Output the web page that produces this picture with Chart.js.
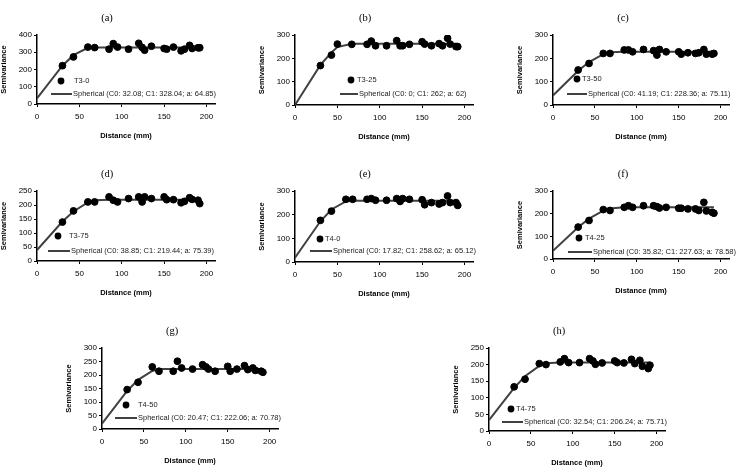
<!DOCTYPE html>
<html>
<head>
<meta charset="utf-8">
<script src="https://cdn.jsdelivr.net/npm/chart.js"></script>
<style>
  html, body { margin: 0; padding: 0; background: #fff; }
  body { position: relative; width: 737px; height: 467px; overflow: hidden; }
  canvas { position: absolute; }
</style>
</head>
<body>
<script>
// lag distances (mm)
const lags = [30, 43, 60, 68, 85, 90, 95, 108, 120, 124, 127, 135, 150, 153, 161, 170, 174, 180, 183, 190, 192];
const lagsB = [30, 43, 50, 67, 85, 90, 95, 108, 120, 124, 127, 135, 150, 153, 161, 170, 174, 180, 183, 190, 192];
const fitLags = [0, 30, 43, 60, 68, 85, 192];
const fitLagsB = [0, 30, 43, 50, 67, 192];
const xTicks = [0, 50, 100, 150, 200];

// experimental semivariance
const semiA = [222, 273, 330, 327, 318, 350, 330, 318, 352, 328, 312, 335, 322, 318, 330, 308, 318, 340, 322, 326, 326];
const semiB = [169, 214, 261, 260, 260, 274, 254, 254, 276, 254, 254, 260, 271, 261, 254, 263, 254, 286, 261, 250, 250];
const semiC = [150, 178, 221, 221, 236, 236, 228, 238, 233, 214, 238, 228, 228, 218, 224, 221, 224, 238, 218, 218, 221];
const semiD = [139, 179, 211, 211, 229, 217, 211, 223, 229, 211, 229, 223, 229, 219, 219, 208, 213, 226, 220, 217, 205];
const semiE = [176, 215, 265, 265, 265, 268, 261, 261, 268, 256, 268, 265, 263, 242, 251, 245, 251, 279, 251, 251, 239];
const semiF = [141, 170, 218, 214, 228, 235, 228, 235, 235, 231, 225, 228, 224, 224, 221, 221, 214, 250, 212, 206, 202];
const semiG = [146, 173, 230, 214, 214, 251, 226, 222, 238, 230, 222, 214, 232, 214, 222, 235, 220, 226, 217, 214, 210];
const semiH = [133, 156, 203, 200, 208, 218, 206, 206, 218, 211, 201, 205, 211, 206, 205, 216, 203, 213, 195, 188, 198];

// spherical model line
const fitA = [32, 222, 283, 326, 328, 328, 328];
const fitB = [0, 172, 225, 248, 262, 262];
const fitC = [41, 147, 184, 218, 226, 228, 228];
const fitD = [39, 141, 177, 209, 217, 219, 219];
const fitE = [18, 172, 222, 256, 259, 259, 259];
const fitF = [36, 140, 178, 213, 223, 228, 228];
const fitG = [20, 141, 182, 215, 222, 222, 222];
const fitH = [33, 130, 165, 196, 204, 206, 206];

const tags = ['(a)', '(b)', '(c)', '(d)', '(e)', '(f)', '(g)', '(h)'];
const seriesNames = ['T3-0', 'T3-25', 'T3-50', 'T3-75', 'T4-0', 'T4-25', 'T4-50', 'T4-75'];
const fitNames = [
    'Spherical (C0: 32.08; C1: 328.04; a: 64.85)',
    'Spherical (C0: 0; C1: 262; a: 62)',
    'Spherical (C0: 41.19; C1: 228.36; a: 75.11)',
    'Spherical (C0: 38.85; C1: 219.44; a: 75.39)',
    'Spherical (C0: 17.82; C1: 258.62; a: 65.12)',
    'Spherical (C0: 35.82; C1: 227.63; a: 78.58)',
    'Spherical (C0: 20.47; C1: 222.06; a: 70.78)',
    'Spherical (C0: 32.54; C1: 206.24; a: 75.71)'
];
const yMaxes = [400, 300, 300, 250, 300, 300, 300, 250];
const ySteps = [100, 50, 50, 50, 50, 50, 50, 50];

const panels = [
    { xs: lags,  ys: semiA, fx: fitLags,  fy: fitA },
    { xs: lagsB, ys: semiB, fx: fitLagsB, fy: fitB },
    { xs: lags,  ys: semiC, fx: fitLags,  fy: fitC },
    { xs: lags,  ys: semiD, fx: fitLags,  fy: fitD },
    { xs: lags,  ys: semiE, fx: fitLags,  fy: fitE },
    { xs: lags,  ys: semiF, fx: fitLags,  fy: fitF },
    { xs: lags,  ys: semiG, fx: fitLags,  fy: fitG },
    { xs: lags,  ys: semiH, fx: fitLags,  fy: fitH }
];

// plot area boxes and legend offsets (layout only)
const boxes = [
    { left: 37,  top: 35,  w: 178, h: 69 },
    { left: 295, top: 35,  w: 178, h: 70 },
    { left: 553, top: 35,  w: 176, h: 70 },
    { left: 37,  top: 191, w: 178, h: 70 },
    { left: 295, top: 191, w: 178, h: 71 },
    { left: 553, top: 191, w: 176, h: 68 },
    { left: 102, top: 348, w: 176, h: 81 },
    { left: 489, top: 348, w: 176, h: 83 }
];
const legends = [
    { l0: 14, l1: 35, ly: -10, dot: 24, dy: -23, t1: 37 },
    { l0: 45, l1: 63, ly: -11, dot: 56, dy: -25, t1: 62 },
    { l0: 14, l1: 34, ly: -11, dot: 24, dy: -26, t1: 29 },
    { l0: 11, l1: 33, ly: -10, dot: 21, dy: -25, t1: 32 },
    { l0: 15, l1: 37, ly: -11, dot: 25, dy: -23, t1: 30 },
    { l0: 15, l1: 39, ly: -7,  dot: 26, dy: -21, t1: 32 },
    { l0: 13, l1: 35, ly: -11, dot: 24, dy: -24, t1: 36 },
    { l0: 13, l1: 34, ly: -9,  dot: 22, dy: -22, t1: 27 }
];

const SANS = '"Liberation Sans", Arial, sans-serif';
const SERIF = '"Liberation Serif", "Times New Roman", serif';
const YW = 38, XH = 36, PT = 26, PR = 34, PB = 3;

// panel letter + in-plot legend
const panelDeco = {
    id: 'panelDeco',
    afterDraw(chart, args, opts) {
        const { ctx, chartArea: a } = chart;
        const ds = chart.data.datasets;
        const L = opts.leg;
        ctx.save();
        ctx.fillStyle = '#000';
        ctx.textBaseline = 'middle';
        ctx.textAlign = 'center';
        ctx.font = '10.5px ' + SERIF;
        ctx.fillText(opts.tag, a.left + 70, a.top - 17);

        ctx.textAlign = 'left';
        ctx.font = '7.5px ' + SANS;
        ctx.beginPath();
        ctx.arc(a.left + L.dot, a.bottom + L.dy, 3.4, 0, Math.PI * 2);
        ctx.fill();
        ctx.fillStyle = '#222';
        ctx.fillText(ds[0].label, a.left + L.t1, a.bottom + L.dy);

        ctx.strokeStyle = '#404040';
        ctx.lineWidth = 2;
        ctx.beginPath();
        ctx.moveTo(a.left + L.l0, a.bottom + L.ly);
        ctx.lineTo(a.left + L.l1, a.bottom + L.ly);
        ctx.stroke();
        ctx.fillText(ds[1].label, a.left + L.l1 + 1, a.bottom + L.ly);
        ctx.restore();
    }
};

function axisBase() {
    return {
        grid: { drawOnChartArea: false, drawTicks: true, tickLength: 3, color: '#000', lineWidth: 1 },
        border: { color: '#000', width: 1.5 }
    };
}

function makePanel(i) {
    const p = panels[i], b = boxes[i];
    const canvas = document.createElement('canvas');
    canvas.width = YW + b.w + PR;
    canvas.height = PT + b.h + XH + PB;
    canvas.style.left = (b.left - YW) + 'px';
    canvas.style.top = (b.top - PT) + 'px';
    document.body.appendChild(canvas);

    new Chart(canvas, {
        type: 'scatter',
        data: {
            datasets: [
                {
                    label: seriesNames[i],
                    data: p.xs.map((x, k) => ({ x: x, y: p.ys[k] })),
                    backgroundColor: '#000',
                    borderColor: '#000',
                    pointRadius: 3.4,
                    order: 0
                },
                {
                    type: 'line',
                    label: fitNames[i],
                    data: p.fx.map((x, k) => ({ x: x, y: p.fy[k] })),
                    borderColor: '#404040',
                    borderWidth: 2,
                    pointRadius: 0,
                    fill: false,
                    tension: 0,
                    order: 1
                }
            ]
        },
        options: {
            responsive: false,
            animation: false,
            devicePixelRatio: 1,
            layout: { padding: { top: PT, right: PR, bottom: PB, left: 0 } },
            plugins: {
                legend: { display: false },
                tooltip: { enabled: false },
                panelDeco: { tag: tags[i], leg: legends[i] }
            },
            scales: {
                x: Object.assign(axisBase(), {
                    type: 'linear',
                    min: 0,
                    max: 210,
                    afterBuildTicks: s => { s.ticks = xTicks.map(v => ({ value: v })); },
                    afterFit: s => { s.height = XH; },
                    ticks: { padding: 5, maxRotation: 0, autoSkip: false, color: '#000', font: { family: SANS, size: 8 } },
                    title: { display: true, text: 'Distance (mm)', color: '#000', padding: 0,
                             font: { family: SANS, size: 7.5, weight: 'bold' } }
                }),
                y: Object.assign(axisBase(), {
                    min: 0,
                    max: yMaxes[i],
                    afterFit: s => { s.width = YW; },
                    ticks: { stepSize: ySteps[i], padding: 2, color: '#000', font: { family: SANS, size: 8 } },
                    title: { display: true, text: 'Semivariance', color: '#000', padding: 0,
                             font: { family: SANS, size: 7.5, weight: 'bold' } }
                })
            }
        },
        plugins: [panelDeco]
    });
}

for (let i = 0; i < panels.length; i++) makePanel(i);
</script>
</body>
</html>
